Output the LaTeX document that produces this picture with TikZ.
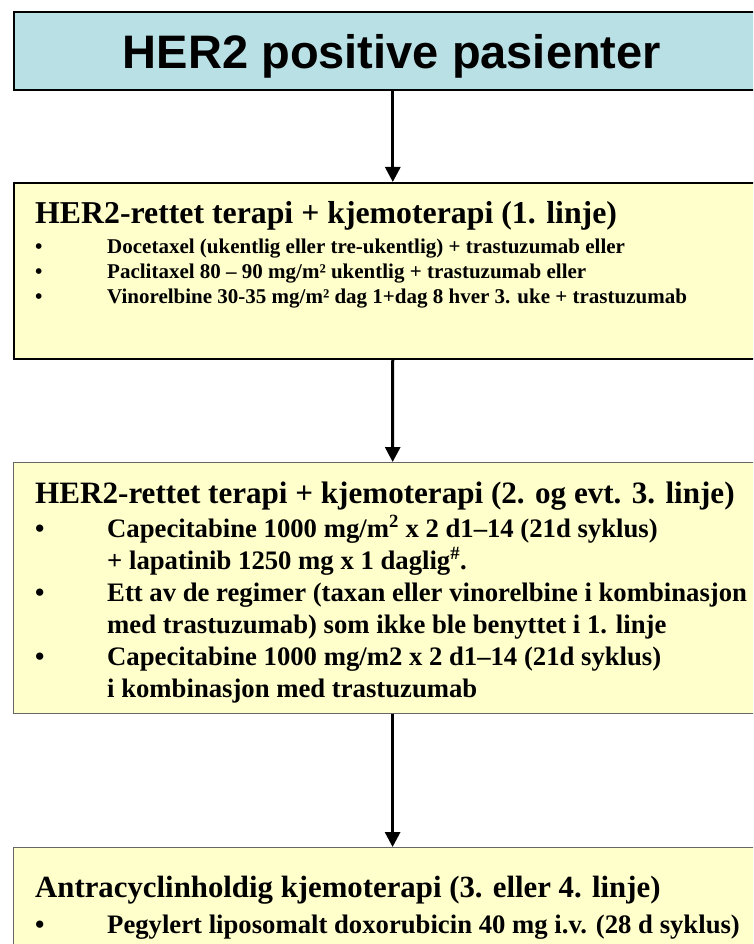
\documentclass[tikz,border=0pt]{standalone}
\usepackage{fontspec}
\setmainfont{Liberation Serif}
\newfontfamily\headfont{Liberation Sans}
\usetikzlibrary{arrows.meta,positioning}

\definecolor{headblue}{RGB}{185,224,228}
\definecolor{boxyellow}{RGB}{255,255,204}

\begin{document}
\begin{tikzpicture}[x=1pt,y=-1pt,>={Triangle[width=15pt,length=15pt]}]
    \tikzstyle{every node}=[inner sep=0pt]
    \tikzstyle{box}=[rectangle,anchor=north west,minimum width=758pt,fill=boxyellow,draw=black,line width=1.6pt]
    \tikzstyle{head box}=[box,fill=headblue]
    \tikzstyle{grey box}=[box,draw=black!60,line width=1.2pt]
    \tikzstyle{title}=[anchor=base west,font=\bfseries\fontsize{31.8}{38}\selectfont]
    \tikzstyle{small item}=[anchor=base west,font=\bfseries\fontsize{21}{25}\selectfont]
    \tikzstyle{item}=[anchor=base west,font=\bfseries\fontsize{26.7}{32}\selectfont]
    \tikzstyle{flow}=[->,line width=3pt]

    \useasboundingbox (0,0) rectangle (753,944);
    \clip (0,0) rectangle (753,944);

    % Draw the boxes
    \node[head box, minimum height=78pt] (P) at (13,11) {};
    \node[box, minimum height=176pt] (L1) at (13,182) {};
    \node[grey box, minimum height=251pt] (L2) at (13,462) {};
    \node[grey box, minimum height=150pt] (L3) at (13,847) {};

    % Connect the boxes
    \draw[flow] (P) -- (L1);
    \draw[flow] (L1) -- (L2);
    \draw[flow] (L2) -- (L3);

    % Header
    \node[font=\headfont\bfseries\fontsize{47}{56}\selectfont, anchor=base] (P-text) at (392,69) {HER2 positive pasienter};

    % First line
    \node[title] (L1-title) at (35,223) {HER2-rettet terapi + kjemoterapi (1. linje)};
    \foreach \n/\y/\txt in {1/253/{Docetaxel (ukentlig eller tre-ukentlig) + trastuzumab eller},
                            2/278/{Paclitaxel 80 – 90 mg/m² ukentlig + trastuzumab eller},
                            3/303/{Vinorelbine 30-35 mg/m² dag 1+dag 8 hver 3. uke + trastuzumab}} {
        \node[small item] (L1-dot-\n) at (35,\y) {•};
        \node[small item] (L1-item-\n) at (107,\y) {\txt};
    }

    % Second (and third) line
    \node[title, font=\bfseries\fontsize{31.1}{38}\selectfont] (L2-title) at (35,503) {HER2-rettet terapi + kjemoterapi (2. og evt. 3. linje)};
    \foreach \n/\y in {1/537,2/601,3/665}
        \node[item] (L2-dot-\n) at (35,\y) {•};
    \foreach \n/\y/\txt in {1/537/{Capecitabine 1000 mg/m\textsuperscript{2} x 2 d1–14 (21d syklus)},
                            2/569/{+ lapatinib 1250 mg x 1 daglig\textsuperscript{\#}.},
                            3/601/{Ett av de regimer (taxan eller vinorelbine i kombinasjon},
                            4/633/{med trastuzumab) som ikke ble benyttet i 1. linje},
                            5/665/{Capecitabine 1000 mg/m2 x 2 d1–14 (21d syklus)},
                            6/697/{i kombinasjon med trastuzumab}}
        \node[item] (L2-item-\n) at (107,\y) {\txt};

    % Third or fourth line
    \node[title, font=\bfseries\fontsize{30.8}{38}\selectfont] (L3-title) at (35,897) {Antracyclinholdig kjemoterapi (3. eller 4. linje)};
    \node[item] (L3-dot-1) at (35,933) {•};
    \node[item] (L3-item-1) at (107,933) {Pegylert liposomalt doxorubicin 40 mg i.v. (28 d syklus)};
\end{tikzpicture}
\end{document}
